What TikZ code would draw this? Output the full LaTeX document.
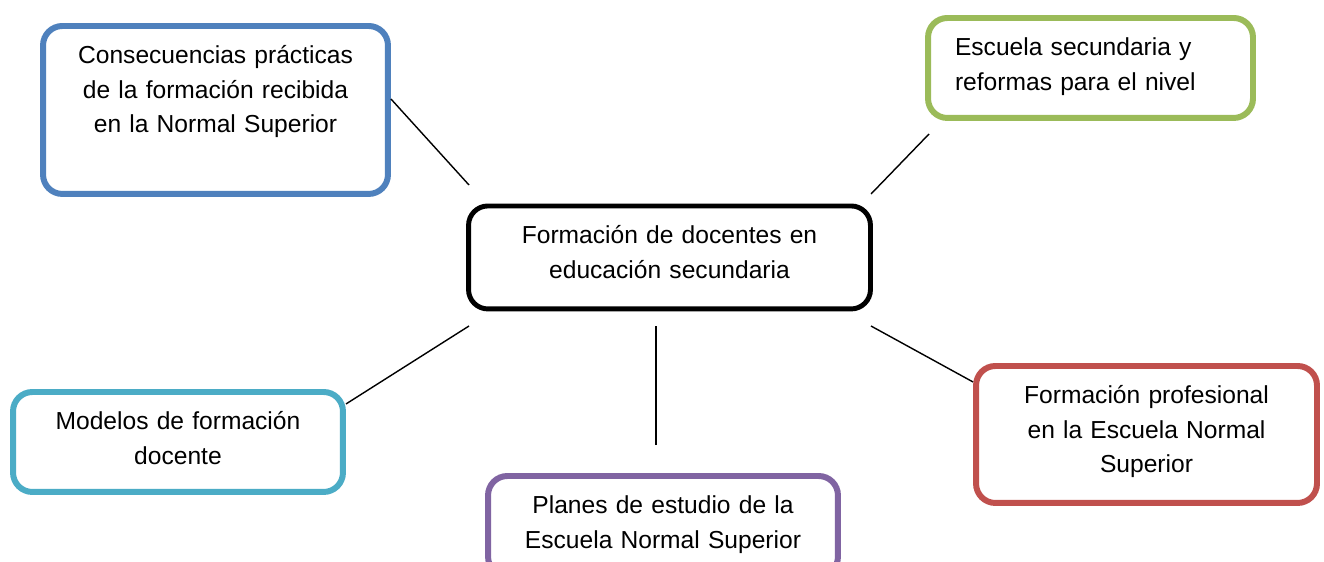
\documentclass[tikz,border=0pt]{standalone}
\usepackage{fontspec}
\setmainfont{Liberation Sans}
\usepackage{xcolor}
\usepackage{tikz}
\usetikzlibrary{positioning,calc}
\definecolor{mapblue}{HTML}{4F81BD}
\definecolor{mapgreen}{HTML}{9BBB59}
\definecolor{mapteal}{HTML}{4BACC6}
\definecolor{mappurple}{HTML}{8064A2}
\definecolor{mapred}{HTML}{C0504D}
\tikzset{
  basic/.style  = {draw, rectangle, rounded corners=11pt, line width=3.4pt,
                   align=center, anchor=north, inner xsep=0pt, inner ysep=0pt,
                   text height=0.76cm, font=\fontsize{14}{19.5}\selectfont},
  root/.style   = {basic, line width=2.8pt, draw=black},
  topic/.style  = {basic, fill=white},
  edge/.style   = {line width=0.8pt}
}

\begin{document}
\begin{tikzpicture}[x=0.02cm, y=-0.02cm]
    \clip (0,0) rectangle (1324,561);
    \node[root, text width=8.04cm, text depth=1.30cm] (main) at (669.5,203.5)
        {Formación de docentes en\\educación secundaria};
    \node[topic, draw=mapblue, text width=6.9cm, text depth=2.60cm] (cons) at (215.5,23)
        {Consecuencias prácticas\\de la formación recibida\\en la Normal Superior};
    \node[topic, draw=mapgreen, align=left, text width=5.42cm, minimum width=6.5cm,
        text depth=1.24cm] (escuela) at (1090.5,15)
        {Escuela secundaria y\\reformas para el nivel};
    \node[topic, draw=mapteal, text width=6.6cm, text depth=1.24cm] (modelos) at (178,389)
        {Modelos de formación\\docente};
    \node[topic, draw=mappurple, text width=7cm, text depth=1.24cm] (planes) at (663,473)
        {Planes de estudio de la\\Escuela Normal Superior};
    \node[topic, draw=mapred, text width=6.82cm, text depth=1.98cm] (prof) at (1146.5,363)
        {Formación profesional\\en la Escuela Normal\\Superior};
    \coordinate (hub nw) at (469,185);
    \coordinate (hub ne) at (871,194);
    \coordinate (hub sw) at (469,326);
    \coordinate (hub s)  at (656,326);
    \coordinate (hub se) at (871,326);
    \coordinate (escuela end) at (929,134);
    \coordinate (planes end)  at (656,445);
    \draw[edge] ([yshift=0.22cm]cons.east) -- (hub nw);
    \draw[edge] (escuela end) -- (hub ne);
    \draw[edge] ([yshift=0.76cm]modelos.east) -- (hub sw);
    \draw[edge] (planes end) -- (hub s);
    \draw[edge] ([yshift=1.05cm]prof.west) -- (hub se);
\end{tikzpicture}
\end{document}
